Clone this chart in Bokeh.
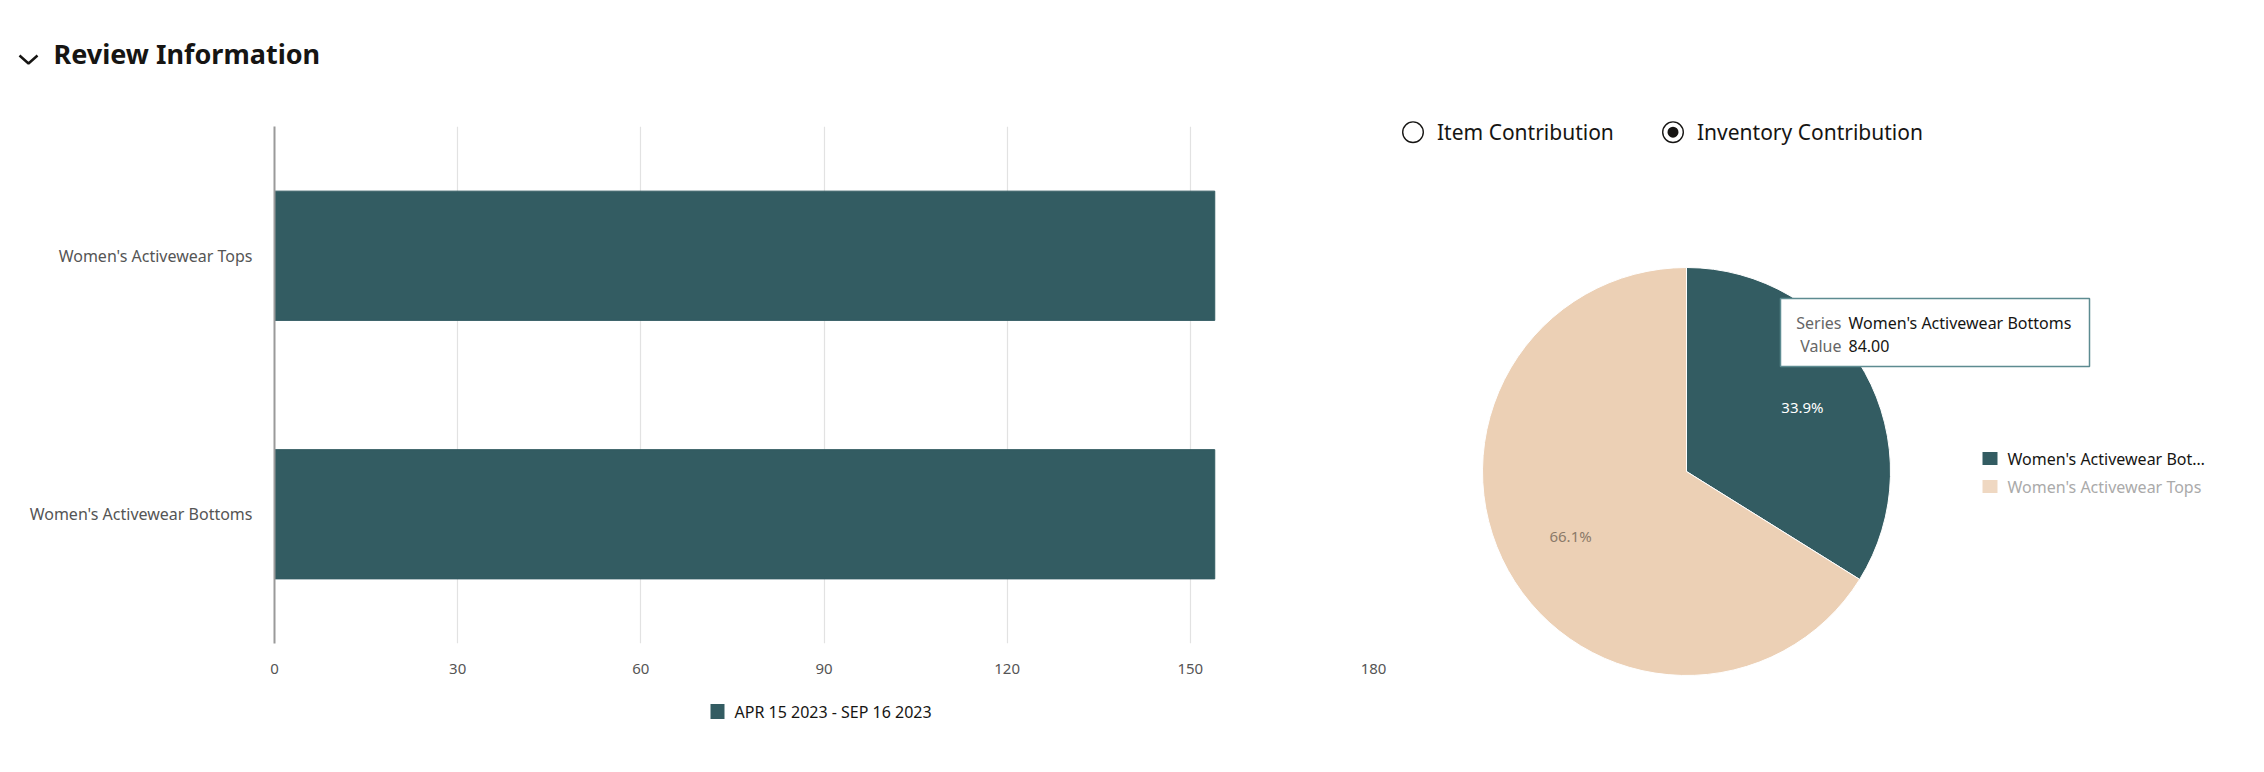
import math
from bokeh.plotting import figure
from bokeh.models import Range1d, FixedTicker
from bokeh.core.properties import value
from bokeh.embed import file_html
from bokeh.resources import INLINE

# ---------------- data ----------------
TITLE = "Review Information"
BAR_CATEGORIES = ["Women's Activewear Bottoms", "Women's Activewear Tops"]
BAR_VALUES = [154, 154]
BAR_SERIES = "APR 15 2023 - SEP 16 2023"
X_TICKS = [0, 30, 60, 90, 120, 150, 180]
PIE_CATEGORIES = ["Women's Activewear Bottoms", "Women's Activewear Tops"]
PIE_VALUES = [84, 164]
RADIO_LABELS = ["Item Contribution", "Inventory Contribution"]
RADIO_SELECTED = [False, True]
TOOLTIP_INDEX = 0

# ---------------- style ----------------
FONT_NAME = "Noto Sans"
FONT = value(FONT_NAME)
TEAL = "#335c62"
TAN = "#ecd0b5"
DARK = "#161513"
GRAY_TXT = "#555555"

# page geometry (page pixels; y grows downward, stored negated)
PAGE_W, PAGE_H = 2248, 756
FR_L, FR_R, FR_T, FR_B = 274, 1373, 126, 643

cat_pos = [i + 0.5 for i in range(len(BAR_CATEGORIES))]

p = figure(width=PAGE_W, height=PAGE_H,
           y_range=Range1d(0, len(BAR_CATEGORIES)),
           x_range=Range1d(0, X_TICKS[-1]),
           toolbar_location=None, output_backend="svg",
           min_border_left=FR_L, min_border_right=PAGE_W - FR_R,
           min_border_top=FR_T, min_border_bottom=PAGE_H - FR_B,
           outline_line_color=None)
p.extra_x_ranges = {"page": Range1d(FR_L, FR_R)}
p.extra_y_ranges = {"page": Range1d(-FR_B, -FR_T)}
PG = dict(x_range_name="page", y_range_name="page", level="overlay")

# ---------------- bar chart ----------------
bars = p.hbar(y=cat_pos, left=0, right=BAR_VALUES, height=0.5,
              fill_color=TEAL, line_color=TEAL)

p.xaxis.ticker = FixedTicker(ticks=X_TICKS)
p.xaxis.axis_line_color = None
p.xaxis.major_tick_line_color = None
p.xaxis.minor_tick_line_color = None
p.xaxis.major_label_standoff = 14
p.xaxis.major_label_text_font = FONT_NAME
p.xaxis.major_label_text_font_size = "15px"
p.xaxis.major_label_text_color = GRAY_TXT

p.yaxis.ticker = FixedTicker(ticks=cat_pos)
p.yaxis.major_label_overrides = {pos: c for pos, c in zip(cat_pos, BAR_CATEGORIES)}
p.yaxis.axis_line_color = "#9a9a9a"
p.yaxis.axis_line_width = 2
p.yaxis.major_tick_line_color = None
p.yaxis.minor_tick_line_color = None
p.yaxis.major_label_standoff = 16
p.yaxis.major_label_text_font = FONT_NAME
p.yaxis.major_label_text_font_size = "16px"
p.yaxis.major_label_text_color = GRAY_TXT

p.ygrid.grid_line_color = None
p.xgrid.grid_line_color = "#e2e2e2"
p.xgrid.grid_line_width = 1.2

# bar legend (below axis)
p.rect(x=[717], y=[-711], width=14, height=15, fill_color=TEAL, line_color=None, **PG)
p.text(x=[734], y=[-711], text=[BAR_SERIES], text_font=FONT, text_font_size="16px",
       text_baseline="middle", text_color=DARK, **PG)

# ---------------- title ----------------
p.line(x=[19, 28, 37], y=[-55, -63, -55], line_color=DARK, line_width=2.5, **PG)
p.text(x=[53], y=[-53], text=[TITLE], text_font=FONT, text_font_size="27px",
       text_font_style="bold", text_baseline="middle", text_color=DARK, **PG)

# ---------------- pie chart ----------------
CX, CY, R = 1686, -471, 204
total = sum(PIE_VALUES)
starts, ends, mids = [], [], []
a = math.pi / 2
for v in PIE_VALUES:
    frac = v / total
    starts.append(a)
    b = a - frac * 2 * math.pi
    ends.append(b)
    mids.append((a + b) / 2)
    a = b
p.wedge(x=[CX] * len(PIE_VALUES), y=[CY] * len(PIE_VALUES), radius=R,
        start_angle=starts, end_angle=ends, direction="clock",
        fill_color=[TEAL, TAN], line_color="white", line_width=1, **PG)

pct = [f"{100 * v / total:.1f}%" for v in PIE_VALUES]
lr = 0.65 * R
p.text(x=[CX + lr * math.cos(m) for m in mids], y=[CY + lr * math.sin(m) for m in mids],
       text=pct, text_font=FONT, text_font_size="15px", text_align="center",
       text_baseline="middle", text_color=["white", "#8b7a69"], **PG)

# radio buttons
RX = [1412.5, 1672.5]
RY = -131.7
p.annulus(x=RX, y=[RY, RY], inner_radius=9.6, outer_radius=11.0,
          fill_color=DARK, line_color=None, **PG)
p.wedge(x=[x for x, s in zip(RX, RADIO_SELECTED) if s],
        y=[RY for s in RADIO_SELECTED if s], radius=5.5,
        start_angle=0, end_angle=2 * math.pi, fill_color=DARK, line_color=None, **PG)
p.text(x=[x + 24 for x in RX], y=[RY, RY], text=RADIO_LABELS, text_font=FONT,
       text_font_size="21px", text_baseline="middle", text_color=DARK, **PG)

# legend on the right
def trunc(s, n=22):
    return s if len(s) <= n + 1 else s[:n] + "\u2026"

LY = [-458, -486]
p.rect(x=[1989.5, 1989.5], y=LY, width=15, height=13,
       fill_color=[TEAL, "#efd8c2"], line_color=None, **PG)
p.text(x=[2007, 2007], y=LY, text=[trunc(c) for c in PIE_CATEGORIES], text_font=FONT,
       text_font_size="16px", text_baseline="middle", text_color=[DARK, "#aaaaaa"], **PG)

# tooltip
p.rect(x=[1934.5], y=[-332], width=309, height=68, fill_color="white",
       line_color="#5d8b91", line_width=1.5, **PG)
p.text(x=[1841, 1841], y=[-322, -345], text=["Series", "Value"], text_font=FONT,
       text_font_size="16px", text_align="right", text_baseline="middle",
       text_color="#666666", **PG)
p.text(x=[1848, 1848], y=[-322, -345],
       text=[PIE_CATEGORIES[TOOLTIP_INDEX], f"{PIE_VALUES[TOOLTIP_INDEX]:.2f}"],
       text_font=FONT, text_font_size="16px", text_baseline="middle", text_color=DARK, **PG)

open("out.html", "w").write(file_html(p, INLINE))
